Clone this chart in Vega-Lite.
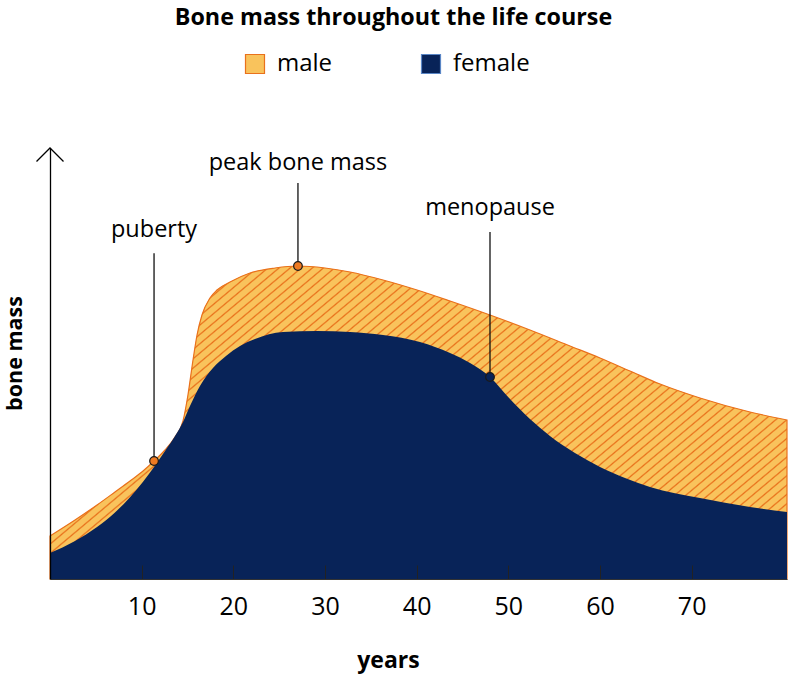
{
"$schema": "https://vega.github.io/schema/vega-lite/v6.json",
"width": 737, "height": 431,
"autosize": {"type": "none"},
"padding": {"left": 50, "top": 148, "right": 1, "bottom": 96},
"background": "white",
"config": {"view": {"stroke": null}},
"title": {"text": "Bone mass throughout the life course", "anchor": "middle", "frame": "group", "dx": -25, "offset": 22, "font": "Open Sans", "fontSize": 23.3, "fontWeight": "bold", "color": "#000"},
"datasets": {
"male": [
{"age":0,"mass":9.98,"sex":"male"},{"age":2.73,"mass":13.69,"sex":"male"},{"age":5.13,"mass":17.17,"sex":"male"},{"age":7.09,"mass":20.19,"sex":"male"},{"age":8.73,"mass":22.74,"sex":"male"},{"age":10.15,"mass":25.06,"sex":"male"},{"age":11.35,"mass":27.38,"sex":"male"},{"age":12.55,"mass":29.93,"sex":"male"},{"age":13.64,"mass":32.95,"sex":"male"},{"age":14.51,"mass":36.66,"sex":"male"},{"age":15.05,"mass":42.69,"sex":"male"},{"age":15.6,"mass":50.81,"sex":"male"},{"age":16.04,"mass":56.61,"sex":"male"},{"age":16.58,"mass":61.25,"sex":"male"},{"age":17.45,"mass":65.2,"sex":"male"},{"age":18.22,"mass":67.05,"sex":"male"},{"age":19.64,"mass":68.91,"sex":"male"},{"age":21.82,"mass":71.0,"sex":"male"},{"age":24.55,"mass":72.16,"sex":"male"},{"age":27.05,"mass":72.62,"sex":"male"},{"age":30.0,"mass":72.16,"sex":"male"},{"age":32.73,"mass":71.23,"sex":"male"},{"age":36.33,"mass":69.37,"sex":"male"},{"age":40.04,"mass":67.05,"sex":"male"},{"age":43.64,"mass":64.5,"sex":"male"},{"age":48.0,"mass":61.25,"sex":"male"},{"age":52.36,"mass":57.77,"sex":"male"},{"age":56.73,"mass":54.06,"sex":"male"},{"age":60.0,"mass":51.28,"sex":"male"},{"age":63.27,"mass":48.26,"sex":"male"},{"age":66.55,"mass":45.24,"sex":"male"},{"age":70.91,"mass":42.0,"sex":"male"},{"age":76.36,"mass":38.75,"sex":"male"},{"age":80.4,"mass":36.89,"sex":"male"}
],
"female": [
{"age":0,"mass":6.03,"sex":"female"},{"age":2.73,"mass":8.82,"sex":"female"},{"age":5.13,"mass":12.06,"sex":"female"},{"age":7.09,"mass":15.45,"sex":"female"},{"age":8.73,"mass":18.98,"sex":"female"},{"age":10.15,"mass":22.55,"sex":"female"},{"age":11.35,"mass":25.99,"sex":"female"},{"age":12.55,"mass":29.7,"sex":"female"},{"age":13.64,"mass":33.18,"sex":"female"},{"age":14.51,"mass":36.43,"sex":"female"},{"age":15.27,"mass":40.14,"sex":"female"},{"age":16.36,"mass":44.78,"sex":"female"},{"age":17.78,"mass":48.96,"sex":"female"},{"age":19.2,"mass":51.74,"sex":"female"},{"age":20.73,"mass":54.06,"sex":"female"},{"age":22.36,"mass":55.68,"sex":"female"},{"age":25.42,"mass":57.31,"sex":"female"},{"age":29.13,"mass":57.54,"sex":"female"},{"age":32.73,"mass":57.31,"sex":"female"},{"age":36.33,"mass":56.61,"sex":"female"},{"age":40.36,"mass":54.99,"sex":"female"},{"age":43.64,"mass":52.44,"sex":"female"},{"age":45.82,"mass":50.12,"sex":"female"},{"age":48.0,"mass":46.87,"sex":"female"},{"age":50.18,"mass":41.76,"sex":"female"},{"age":52.36,"mass":37.12,"sex":"female"},{"age":54.54,"mass":33.18,"sex":"female"},{"age":57.27,"mass":29.23,"sex":"female"},{"age":60.0,"mass":25.99,"sex":"female"},{"age":62.73,"mass":23.43,"sex":"female"},{"age":65.45,"mass":21.35,"sex":"female"},{"age":70.91,"mass":18.79,"sex":"female"},{"age":76.36,"mass":16.71,"sex":"female"},{"age":80.4,"mass":15.55,"sex":"female"}
],
"events": [
{"name":"puberty","age":11.35,"mass":27.38,"top":75.6},
{"name":"peak bone mass","age":27.05,"mass":72.62,"top":91.88},
{"name":"menopause","age":48.0,"mass":46.87,"top":80.5}
],
"labels": [
{"name":"puberty","age":11.35,"mass":79.35},
{"name":"peak bone mass","age":27.05,"mass":94.9},
{"name":"menopause","age":48.0,"mass":84.45}
],
"axisTop": [{"age":0,"mass":100}]
},
"encoding": {
"x": {"field": "age", "type": "quantitative", "scale": {"domain": [0, 80.4], "nice": false, "zero": false},
 "axis": {"title": "years", "values": [10,20,30,40,50,60,70], "tickSize": -14, "tickColor": "#222", "tickWidth": 1, "domainColor": "#333", "domainWidth": 1, "labelFont": "Open Sans", "labelFontSize": 25, "labelColor": "#000", "labelPadding": 29, "grid": false, "titleFont": "Open Sans", "titleFontSize": 23, "titleFontWeight": "bold", "titleColor": "#000", "titleX": 338, "titleY": 88, "titleBaseline": "alphabetic", "titleAlign": "center", "zindex": 1}},
"y": {"field": "mass", "type": "quantitative", "scale": {"domain": [0, 100], "nice": false},
 "axis": {"title": "bone mass", "ticks": false, "labels": false, "grid": false, "domainColor": "#000", "domainWidth": 1.3, "titleFont": "Open Sans", "titleFontSize": 21.5, "titleFontWeight": "bold", "titleColor": "#000", "titleX": -35, "titleY": 205, "titleAngle": 270, "titleAlign": "center", "titleBaseline": "middle", "zindex": 1}}
},
"layer": [
{"data": {"name": "male"}, "mark": {"type": "area", "interpolate": "monotone"},
 "encoding": {"fill": {"field": "sex", "type": "nominal", "scale": {"domain": ["male", "female"], "range": ["#f9c35c", "#082358"]},
  "legend": {"title": null, "orient": "none", "legendX": 193, "legendY": -96, "direction": "horizontal", "symbolType": "square", "symbolSize": 361, "labelFont": "Open Sans", "labelFontSize": 24, "labelColor": "#000", "labelOffset": 10, "columnPadding": 86, "padding": 0,
   "encode": {"symbols": {"update": {
    "fill": [{"test": "datum.value === 'male'", "value": {"gradient": "linear", "x1": 0, "y1": 0, "x2": 1, "y2": 1, "stops": [{"offset":0,"color":"#f9c35c"},{"offset":0.33,"color":"#f9c35c"},{"offset":0.34,"color":"#e9711c"},{"offset":0.4,"color":"#e9711c"},{"offset":0.41,"color":"#f9c35c"},{"offset":0.71,"color":"#f9c35c"},{"offset":0.72,"color":"#e9711c"},{"offset":0.78,"color":"#e9711c"},{"offset":0.79,"color":"#f9c35c"},{"offset":1,"color":"#f9c35c"}]}}, {"value": "#082358"}],
    "stroke": [{"test": "datum.value === 'male'", "value": "#e9711c"}, {"value": "#5a86c5"}],
    "strokeWidth": {"value": 1.2},
    "opacity": {"value": 1}}}}}}}},
{"data": {"name": "male"}, "mark": {"type": "area", "interpolate": "monotone", "stroke": "#e9711c", "strokeWidth": 1.2,
 "fill": {"gradient": "linear", "x1": 0, "y1": 0, "x2": 1.2, "y2": 0.607, "stops": [
{"offset":0,"color":"#f9c35c"},{"offset":0.0066,"color":"#f9c35c"},{"offset":0.0083,"color":"#e8701a"},
{"offset":0.01,"color":"#f9c35c"},{"offset":0.0166,"color":"#f9c35c"},{"offset":0.0183,"color":"#e8701a"},
{"offset":0.02,"color":"#f9c35c"},{"offset":0.0266,"color":"#f9c35c"},{"offset":0.0283,"color":"#e8701a"},
{"offset":0.03,"color":"#f9c35c"},{"offset":0.0366,"color":"#f9c35c"},{"offset":0.0383,"color":"#e8701a"},
{"offset":0.04,"color":"#f9c35c"},{"offset":0.0466,"color":"#f9c35c"},{"offset":0.0483,"color":"#e8701a"},
{"offset":0.05,"color":"#f9c35c"},{"offset":0.0566,"color":"#f9c35c"},{"offset":0.0583,"color":"#e8701a"},
{"offset":0.06,"color":"#f9c35c"},{"offset":0.0666,"color":"#f9c35c"},{"offset":0.0683,"color":"#e8701a"},
{"offset":0.07,"color":"#f9c35c"},{"offset":0.0766,"color":"#f9c35c"},{"offset":0.0783,"color":"#e8701a"},
{"offset":0.08,"color":"#f9c35c"},{"offset":0.0866,"color":"#f9c35c"},{"offset":0.0883,"color":"#e8701a"},
{"offset":0.09,"color":"#f9c35c"},{"offset":0.0966,"color":"#f9c35c"},{"offset":0.0983,"color":"#e8701a"},
{"offset":0.10,"color":"#f9c35c"},{"offset":0.1066,"color":"#f9c35c"},{"offset":0.1083,"color":"#e8701a"},
{"offset":0.11,"color":"#f9c35c"},{"offset":0.1166,"color":"#f9c35c"},{"offset":0.1183,"color":"#e8701a"},
{"offset":0.12,"color":"#f9c35c"},{"offset":0.1266,"color":"#f9c35c"},{"offset":0.1283,"color":"#e8701a"},
{"offset":0.13,"color":"#f9c35c"},{"offset":0.1366,"color":"#f9c35c"},{"offset":0.1383,"color":"#e8701a"},
{"offset":0.14,"color":"#f9c35c"},{"offset":0.1466,"color":"#f9c35c"},{"offset":0.1483,"color":"#e8701a"},
{"offset":0.15,"color":"#f9c35c"},{"offset":0.1566,"color":"#f9c35c"},{"offset":0.1583,"color":"#e8701a"},
{"offset":0.16,"color":"#f9c35c"},{"offset":0.1666,"color":"#f9c35c"},{"offset":0.1683,"color":"#e8701a"},
{"offset":0.17,"color":"#f9c35c"},{"offset":0.1766,"color":"#f9c35c"},{"offset":0.1783,"color":"#e8701a"},
{"offset":0.18,"color":"#f9c35c"},{"offset":0.1866,"color":"#f9c35c"},{"offset":0.1883,"color":"#e8701a"},
{"offset":0.19,"color":"#f9c35c"},{"offset":0.1966,"color":"#f9c35c"},{"offset":0.1983,"color":"#e8701a"},
{"offset":0.20,"color":"#f9c35c"},{"offset":0.2066,"color":"#f9c35c"},{"offset":0.2083,"color":"#e8701a"},
{"offset":0.21,"color":"#f9c35c"},{"offset":0.2166,"color":"#f9c35c"},{"offset":0.2183,"color":"#e8701a"},
{"offset":0.22,"color":"#f9c35c"},{"offset":0.2266,"color":"#f9c35c"},{"offset":0.2283,"color":"#e8701a"},
{"offset":0.23,"color":"#f9c35c"},{"offset":0.2366,"color":"#f9c35c"},{"offset":0.2383,"color":"#e8701a"},
{"offset":0.24,"color":"#f9c35c"},{"offset":0.2466,"color":"#f9c35c"},{"offset":0.2483,"color":"#e8701a"},
{"offset":0.25,"color":"#f9c35c"},{"offset":0.2566,"color":"#f9c35c"},{"offset":0.2583,"color":"#e8701a"},
{"offset":0.26,"color":"#f9c35c"},{"offset":0.2666,"color":"#f9c35c"},{"offset":0.2683,"color":"#e8701a"},
{"offset":0.27,"color":"#f9c35c"},{"offset":0.2766,"color":"#f9c35c"},{"offset":0.2783,"color":"#e8701a"},
{"offset":0.28,"color":"#f9c35c"},{"offset":0.2866,"color":"#f9c35c"},{"offset":0.2883,"color":"#e8701a"},
{"offset":0.29,"color":"#f9c35c"},{"offset":0.2966,"color":"#f9c35c"},{"offset":0.2983,"color":"#e8701a"},
{"offset":0.30,"color":"#f9c35c"},{"offset":0.3066,"color":"#f9c35c"},{"offset":0.3083,"color":"#e8701a"},
{"offset":0.31,"color":"#f9c35c"},{"offset":0.3166,"color":"#f9c35c"},{"offset":0.3183,"color":"#e8701a"},
{"offset":0.32,"color":"#f9c35c"},{"offset":0.3266,"color":"#f9c35c"},{"offset":0.3283,"color":"#e8701a"},
{"offset":0.33,"color":"#f9c35c"},{"offset":0.3366,"color":"#f9c35c"},{"offset":0.3383,"color":"#e8701a"},
{"offset":0.34,"color":"#f9c35c"},{"offset":0.3466,"color":"#f9c35c"},{"offset":0.3483,"color":"#e8701a"},
{"offset":0.35,"color":"#f9c35c"},{"offset":0.3566,"color":"#f9c35c"},{"offset":0.3583,"color":"#e8701a"},
{"offset":0.36,"color":"#f9c35c"},{"offset":0.3666,"color":"#f9c35c"},{"offset":0.3683,"color":"#e8701a"},
{"offset":0.37,"color":"#f9c35c"},{"offset":0.3766,"color":"#f9c35c"},{"offset":0.3783,"color":"#e8701a"},
{"offset":0.38,"color":"#f9c35c"},{"offset":0.3866,"color":"#f9c35c"},{"offset":0.3883,"color":"#e8701a"},
{"offset":0.39,"color":"#f9c35c"},{"offset":0.3966,"color":"#f9c35c"},{"offset":0.3983,"color":"#e8701a"},
{"offset":0.40,"color":"#f9c35c"},{"offset":0.4066,"color":"#f9c35c"},{"offset":0.4083,"color":"#e8701a"},
{"offset":0.41,"color":"#f9c35c"},{"offset":0.4166,"color":"#f9c35c"},{"offset":0.4183,"color":"#e8701a"},
{"offset":0.42,"color":"#f9c35c"},{"offset":0.4266,"color":"#f9c35c"},{"offset":0.4283,"color":"#e8701a"},
{"offset":0.43,"color":"#f9c35c"},{"offset":0.4366,"color":"#f9c35c"},{"offset":0.4383,"color":"#e8701a"},
{"offset":0.44,"color":"#f9c35c"},{"offset":0.4466,"color":"#f9c35c"},{"offset":0.4483,"color":"#e8701a"},
{"offset":0.45,"color":"#f9c35c"},{"offset":0.4566,"color":"#f9c35c"},{"offset":0.4583,"color":"#e8701a"},
{"offset":0.46,"color":"#f9c35c"},{"offset":0.4666,"color":"#f9c35c"},{"offset":0.4683,"color":"#e8701a"},
{"offset":0.47,"color":"#f9c35c"},{"offset":0.4766,"color":"#f9c35c"},{"offset":0.4783,"color":"#e8701a"},
{"offset":0.48,"color":"#f9c35c"},{"offset":0.4866,"color":"#f9c35c"},{"offset":0.4883,"color":"#e8701a"},
{"offset":0.49,"color":"#f9c35c"},{"offset":0.4966,"color":"#f9c35c"},{"offset":0.4983,"color":"#e8701a"},
{"offset":0.50,"color":"#f9c35c"},{"offset":0.5066,"color":"#f9c35c"},{"offset":0.5083,"color":"#e8701a"},
{"offset":0.51,"color":"#f9c35c"},{"offset":0.5166,"color":"#f9c35c"},{"offset":0.5183,"color":"#e8701a"},
{"offset":0.52,"color":"#f9c35c"},{"offset":0.5266,"color":"#f9c35c"},{"offset":0.5283,"color":"#e8701a"},
{"offset":0.53,"color":"#f9c35c"},{"offset":0.5366,"color":"#f9c35c"},{"offset":0.5383,"color":"#e8701a"},
{"offset":0.54,"color":"#f9c35c"},{"offset":0.5466,"color":"#f9c35c"},{"offset":0.5483,"color":"#e8701a"},
{"offset":0.55,"color":"#f9c35c"},{"offset":0.5566,"color":"#f9c35c"},{"offset":0.5583,"color":"#e8701a"},
{"offset":0.56,"color":"#f9c35c"},{"offset":0.5666,"color":"#f9c35c"},{"offset":0.5683,"color":"#e8701a"},
{"offset":0.57,"color":"#f9c35c"},{"offset":0.5766,"color":"#f9c35c"},{"offset":0.5783,"color":"#e8701a"},
{"offset":0.58,"color":"#f9c35c"},{"offset":0.5866,"color":"#f9c35c"},{"offset":0.5883,"color":"#e8701a"},
{"offset":0.59,"color":"#f9c35c"},{"offset":0.5966,"color":"#f9c35c"},{"offset":0.5983,"color":"#e8701a"},
{"offset":0.60,"color":"#f9c35c"},{"offset":0.6066,"color":"#f9c35c"},{"offset":0.6083,"color":"#e8701a"},
{"offset":0.61,"color":"#f9c35c"},{"offset":0.6166,"color":"#f9c35c"},{"offset":0.6183,"color":"#e8701a"},
{"offset":0.62,"color":"#f9c35c"},{"offset":0.6266,"color":"#f9c35c"},{"offset":0.6283,"color":"#e8701a"},
{"offset":0.63,"color":"#f9c35c"},{"offset":0.6366,"color":"#f9c35c"},{"offset":0.6383,"color":"#e8701a"},
{"offset":0.64,"color":"#f9c35c"},{"offset":0.6466,"color":"#f9c35c"},{"offset":0.6483,"color":"#e8701a"},
{"offset":0.65,"color":"#f9c35c"},{"offset":0.6566,"color":"#f9c35c"},{"offset":0.6583,"color":"#e8701a"},
{"offset":0.66,"color":"#f9c35c"},{"offset":0.6666,"color":"#f9c35c"},{"offset":0.6683,"color":"#e8701a"},
{"offset":0.67,"color":"#f9c35c"},{"offset":0.6766,"color":"#f9c35c"},{"offset":0.6783,"color":"#e8701a"},
{"offset":0.68,"color":"#f9c35c"},{"offset":0.6866,"color":"#f9c35c"},{"offset":0.6883,"color":"#e8701a"},
{"offset":0.69,"color":"#f9c35c"},{"offset":0.6966,"color":"#f9c35c"},{"offset":0.6983,"color":"#e8701a"},
{"offset":0.70,"color":"#f9c35c"},{"offset":0.7066,"color":"#f9c35c"},{"offset":0.7083,"color":"#e8701a"},
{"offset":0.71,"color":"#f9c35c"},{"offset":0.7166,"color":"#f9c35c"},{"offset":0.7183,"color":"#e8701a"},
{"offset":0.72,"color":"#f9c35c"},{"offset":0.7266,"color":"#f9c35c"},{"offset":0.7283,"color":"#e8701a"},
{"offset":0.73,"color":"#f9c35c"},{"offset":0.7366,"color":"#f9c35c"},{"offset":0.7383,"color":"#e8701a"},
{"offset":0.74,"color":"#f9c35c"},{"offset":0.7466,"color":"#f9c35c"},{"offset":0.7483,"color":"#e8701a"},
{"offset":0.75,"color":"#f9c35c"},{"offset":0.7566,"color":"#f9c35c"},{"offset":0.7583,"color":"#e8701a"},
{"offset":0.76,"color":"#f9c35c"},{"offset":0.7666,"color":"#f9c35c"},{"offset":0.7683,"color":"#e8701a"},
{"offset":0.77,"color":"#f9c35c"},{"offset":0.7766,"color":"#f9c35c"},{"offset":0.7783,"color":"#e8701a"},
{"offset":0.78,"color":"#f9c35c"},{"offset":0.7866,"color":"#f9c35c"},{"offset":0.7883,"color":"#e8701a"},
{"offset":0.79,"color":"#f9c35c"},{"offset":0.7966,"color":"#f9c35c"},{"offset":0.7983,"color":"#e8701a"},
{"offset":0.80,"color":"#f9c35c"},{"offset":0.8066,"color":"#f9c35c"},{"offset":0.8083,"color":"#e8701a"},
{"offset":0.81,"color":"#f9c35c"},{"offset":0.8166,"color":"#f9c35c"},{"offset":0.8183,"color":"#e8701a"},
{"offset":0.82,"color":"#f9c35c"},{"offset":0.8266,"color":"#f9c35c"},{"offset":0.8283,"color":"#e8701a"},
{"offset":0.83,"color":"#f9c35c"},{"offset":0.8366,"color":"#f9c35c"},{"offset":0.8383,"color":"#e8701a"},
{"offset":0.84,"color":"#f9c35c"},{"offset":0.8466,"color":"#f9c35c"},{"offset":0.8483,"color":"#e8701a"},
{"offset":0.85,"color":"#f9c35c"},{"offset":0.8566,"color":"#f9c35c"},{"offset":0.8583,"color":"#e8701a"},
{"offset":0.86,"color":"#f9c35c"},{"offset":0.8666,"color":"#f9c35c"},{"offset":0.8683,"color":"#e8701a"},
{"offset":0.87,"color":"#f9c35c"},{"offset":0.8766,"color":"#f9c35c"},{"offset":0.8783,"color":"#e8701a"},
{"offset":0.88,"color":"#f9c35c"},{"offset":0.8866,"color":"#f9c35c"},{"offset":0.8883,"color":"#e8701a"},
{"offset":0.89,"color":"#f9c35c"},{"offset":0.8966,"color":"#f9c35c"},{"offset":0.8983,"color":"#e8701a"},
{"offset":0.90,"color":"#f9c35c"},{"offset":0.9066,"color":"#f9c35c"},{"offset":0.9083,"color":"#e8701a"},
{"offset":0.91,"color":"#f9c35c"},{"offset":0.9166,"color":"#f9c35c"},{"offset":0.9183,"color":"#e8701a"},
{"offset":0.92,"color":"#f9c35c"},{"offset":0.9266,"color":"#f9c35c"},{"offset":0.9283,"color":"#e8701a"},
{"offset":0.93,"color":"#f9c35c"},{"offset":0.9366,"color":"#f9c35c"},{"offset":0.9383,"color":"#e8701a"},
{"offset":0.94,"color":"#f9c35c"},{"offset":0.9466,"color":"#f9c35c"},{"offset":0.9483,"color":"#e8701a"},
{"offset":0.95,"color":"#f9c35c"},{"offset":0.9566,"color":"#f9c35c"},{"offset":0.9583,"color":"#e8701a"},
{"offset":0.96,"color":"#f9c35c"},{"offset":0.9666,"color":"#f9c35c"},{"offset":0.9683,"color":"#e8701a"},
{"offset":0.97,"color":"#f9c35c"},{"offset":0.9766,"color":"#f9c35c"},{"offset":0.9783,"color":"#e8701a"},
{"offset":0.98,"color":"#f9c35c"},{"offset":0.9866,"color":"#f9c35c"},{"offset":0.9883,"color":"#e8701a"},
{"offset":0.99,"color":"#f9c35c"},{"offset":0.9966,"color":"#f9c35c"},{"offset":0.9983,"color":"#e8701a"},
{"offset":1,"color":"#f9c35c"}
]}}},
{"data": {"name": "female"}, "mark": {"type": "area", "interpolate": "monotone"},
 "encoding": {"fill": {"field": "sex", "type": "nominal"}}},
{"data": {"name": "events"}, "mark": {"type": "rule", "color": "#111", "strokeWidth": 1.3},
 "encoding": {"y2": {"field": "top"}}},
{"data": {"name": "events"}, "mark": {"type": "point", "filled": true, "size": 75, "opacity": 1, "stroke": "#1a1a1a", "strokeWidth": 1.2},
 "encoding": {"fill": {"condition": {"test": "datum.name === 'menopause'", "value": "#082358"}, "value": "#ee7a22"}}},
{"data": {"name": "labels"}, "mark": {"type": "text", "font": "Open Sans", "fontSize": 23.5, "align": "center", "baseline": "alphabetic", "color": "#000"},
 "encoding": {"text": {"field": "name"}}},
{"data": {"name": "axisTop"}, "mark": {"type": "point", "shape": "M -1 1 L 0 0 L 1 1", "filled": false, "size": 729, "stroke": "#000", "strokeWidth": 1.3, "opacity": 1}}
]
}
